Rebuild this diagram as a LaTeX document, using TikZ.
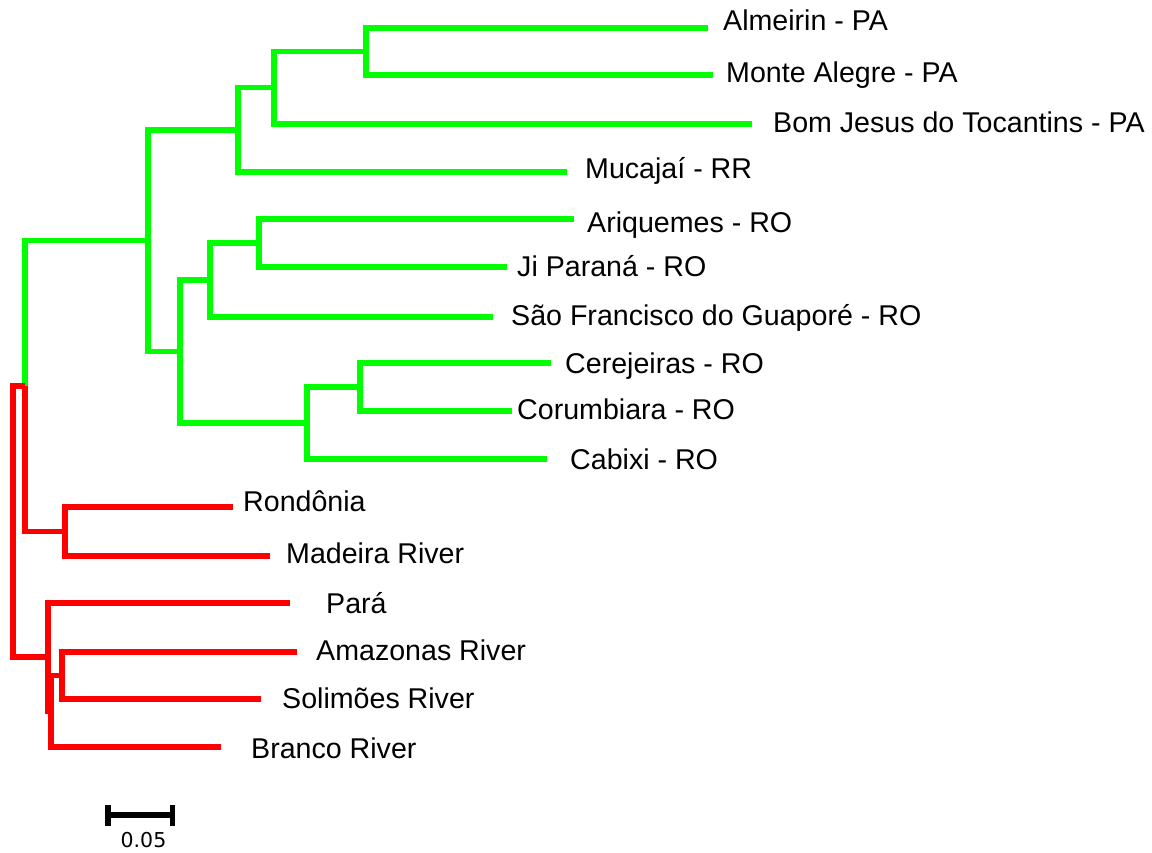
\documentclass[tikz,border=0pt]{standalone}
\usepackage{fontspec}
\setmainfont{Liberation Sans}
\newfontfamily\barfont{DejaVu Sans}
\usepackage{tikz}
\usetikzlibrary{calc}
\definecolor{cladegreen}{RGB}{0,255,0}
\definecolor{cladered}{RGB}{255,0,0}
\newcommand{\tip}[3]{\coordinate(#1) at (#2,#3)}
\newcommand{\taxon}[4]{\node(#1)[taxon] at (#2,#3) {#4}}

\begin{document}
\begin{tikzpicture}[
        x=1pt, y=-1pt,
        every node/.style={font=\fontsize{28.6}{34}\selectfont},
        taxon/.style={anchor=base west, inner sep=0pt},
        branch/.style={line width=5.3pt, line join=miter},
        gbranch/.style={branch, draw=cladegreen},
        rbranch/.style={branch, draw=cladered}
      ]
      \useasboundingbox (0,0) rectangle (1152,852);
      % leaf ends
      \tip{almeirin}{708}{28}; \tip{monte}{713}{75}; \tip{bomjesus}{752}{124};
      \tip{mucajai}{567}{172}; \tip{ariquemes}{574}{219}; \tip{jiparana}{507}{267};
      \tip{saofrancisco}{493}{317}; \tip{cerejeiras}{551}{363}; \tip{corumbiara}{512}{411};
      \tip{cabixi}{547}{459}; \tip{rondonia}{233}{507}; \tip{madeira}{270}{556};
      \tip{para}{290}{603}; \tip{amazonas}{297}{652}; \tip{solimoes}{261}{699};
      \tip{branco}{221}{747};
      % internal nodes
      \tip{nA}{366}{51.5}; \tip{nB}{274}{87.75}; \tip{nC}{238}{129.9};
      \tip{nD}{259}{243}; \tip{nE}{210}{280}; \tip{nF}{360}{387};
      \tip{nG}{307}{423}; \tip{nH}{180}{351.5}; \tip{nI}{148}{240.7};
      \tip{nJ}{65}{531.5}; \tip{nK}{25}{386}; \tip{nM}{62}{675.5};
      \tip{nN}{51}{711}; \tip{nP}{48}{657}; \tip{root}{13}{521.5};

      \foreach \p/\c in {nA/almeirin, nA/monte, nB/nA, nB/bomjesus, nC/nB, nC/mucajai,
                         nD/ariquemes, nD/jiparana, nE/nD, nE/saofrancisco,
                         nF/cerejeiras, nF/corumbiara, nG/nF, nG/cabixi,
                         nH/nE, nH/nG, nI/nC, nI/nH, nK/nI}
        \draw[gbranch] (\p) |- (\c);
      \foreach \p/\c in {nJ/rondonia, nJ/madeira, nK/nJ, nM/amazonas, nM/solimoes,
                         nN/nM, nN/branco, nP/para, nP/nN, root/nK, root/nP}
        \draw[rbranch] (\p) |- (\c);

      % labels
      \taxon{lalmeirin}{723}{30}{Almeirin - PA};
      \taxon{lmonte}{726}{82}{Monte Alegre - PA};
      \taxon{lbomjesus}{773}{132}{Bom Jesus do Tocantins - PA};
      \taxon{lmucajai}{585}{178}{Mucajaí - RR};
      \taxon{lariquemes}{587}{232}{Ariquemes - RO};
      \taxon{ljiparana}{517}{276}{Ji Paraná - RO};
      \taxon{lsaofrancisco}{511}{325}{São Francisco do Guaporé - RO};
      \taxon{lcerejeiras}{565}{373}{Cerejeiras - RO};
      \taxon{lcorumbiara}{517}{419}{Corumbiara - RO};
      \taxon{lcabixi}{570}{469}{Cabixi - RO};
      \taxon{lrondonia}{243}{511}{Rondônia};
      \taxon{lmadeira}{286}{563}{Madeira River};
      \taxon{lpara}{326}{613}{Pará};
      \taxon{lamazonas}{316}{660}{Amazonas River};
      \taxon{lsolimoes}{282}{708}{Solimões River};
      \taxon{lbranco}{251}{758}{Branco River};

      % scale bar
      \coordinate (barleft) at (108,815);
      \coordinate (barright) at (172.5,815);
      \draw[line width=5.5pt] (barleft) -- (barright);
      \draw[line width=5.5pt] ($(barleft)+(0,-10.5)$) -- ($(barleft)+(0,10.5)$);
      \draw[line width=5.5pt] ($(barright)+(0,-10.5)$) -- ($(barright)+(0,10.5)$);
      \node(barlabel)[anchor=base, inner sep=0pt, font=\barfont\fontsize{20.5}{24}\selectfont]
        at (143.5,847) {0.05};
    \end{tikzpicture}
\end{document}
